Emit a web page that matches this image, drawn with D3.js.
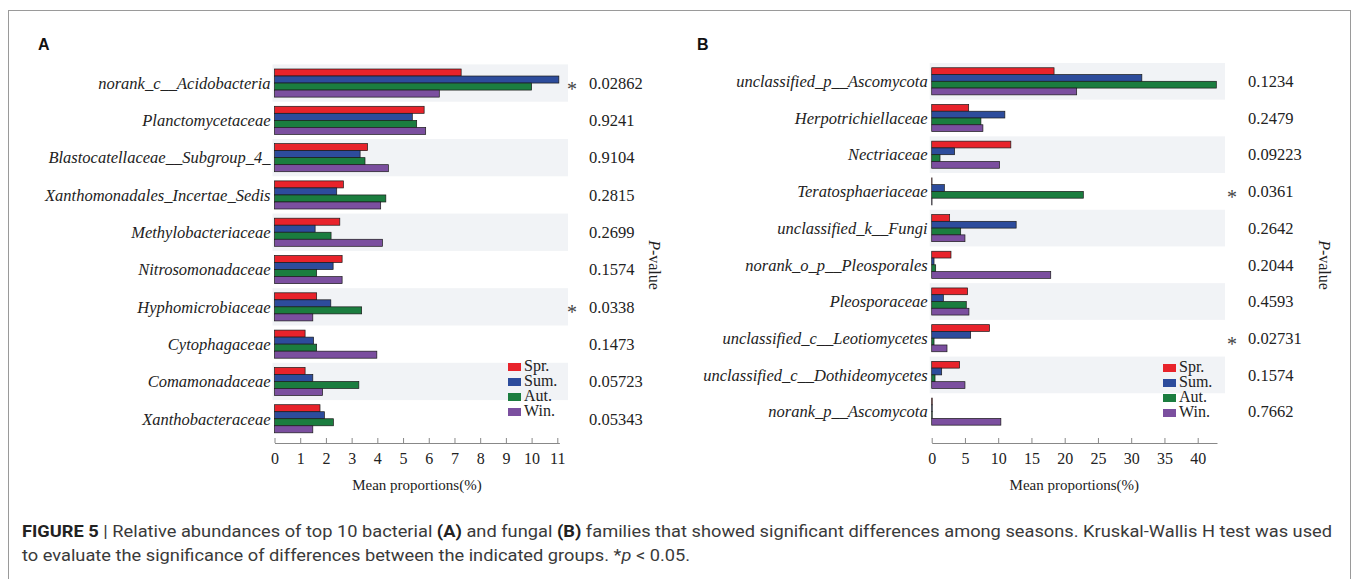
<!DOCTYPE html>
<html>
<head>
<meta charset="utf-8">
<script src="https://cdn.jsdelivr.net/npm/d3@7/dist/d3.min.js"></script>
<style>
  body { margin: 0; background: #fff; }
  svg text { font-family: "Liberation Serif", "DejaVu Serif", serif; fill: #222; }
</style>
</head>
<body>
<svg id="chart" width="1356" height="579"></svg>
<script>
var seasons = ['Spr.', 'Sum.', 'Aut.', 'Win.'];
var seasonColors = ['#e8232b', '#2d4c9c', '#1b7d3f', '#7b4f9f'];

// panel A: bacterial families
var bacFamilies = ['norank_c__Acidobacteria', 'Planctomycetaceae', 'Blastocatellaceae__Subgroup_4_',
  'Xanthomonadales_Incertae_Sedis', 'Methylobacteriaceae', 'Nitrosomonadaceae', 'Hyphomicrobiaceae',
  'Cytophagaceae', 'Comamonadaceae', 'Xanthobacteraceae'];
var bacSpr = [7.26, 5.82, 3.62, 2.68, 2.54, 2.63, 1.64, 1.19, 1.19, 1.77];
var bacSum = [11.06, 5.36, 3.33, 2.42, 1.58, 2.28, 2.19, 1.52, 1.49, 1.94];
var bacAut = [10.0, 5.53, 3.52, 4.33, 2.2, 1.64, 3.39, 1.64, 3.28, 2.29];
var bacWin = [6.41, 5.88, 4.43, 4.13, 4.2, 2.63, 1.49, 3.98, 1.87, 1.49];
var bacP = ['0.02862', '0.9241', '0.9104', '0.2815', '0.2699', '0.1574', '0.0338', '0.1473', '0.05723', '0.05343'];
var bacSig = [true, false, false, false, false, false, true, false, false, false];
var bacTicks = [0, 1, 2, 3, 4, 5, 6, 7, 8, 9, 10, 11];

// panel B: fungal families
var funFamilies = ['unclassified_p__Ascomycota', 'Herpotrichiellaceae', 'Nectriaceae', 'Teratosphaeriaceae',
  'unclassified_k__Fungi', 'norank_o_p__Pleosporales', 'Pleosporaceae', 'unclassified_c__Leotiomycetes',
  'unclassified_c__Dothideomycetes', 'norank_p__Ascomycota'];
var funSpr = [18.4, 5.56, 11.9, 0.05, 2.7, 2.9, 5.4, 8.7, 4.2, 0.08];
var funSum = [31.6, 11.0, 3.45, 1.9, 12.7, 0.35, 1.75, 5.86, 1.5, 0.08];
var funAut = [42.8, 7.4, 1.25, 22.8, 4.36, 0.6, 5.2, 0.35, 0.5, 0.08];
var funWin = [21.8, 7.7, 10.2, 0.05, 5.0, 17.9, 5.6, 2.3, 5.0, 10.4];
var funP = ['0.1234', '0.2479', '0.09223', '0.0361', '0.2642', '0.2044', '0.4593', '0.02731', '0.1574', '0.7662'];
var funSig = [false, false, false, true, false, false, false, true, false, false];
var funTicks = [0, 5, 10, 15, 20, 25, 30, 35, 40];

var svg = d3.select('#chart');

// outer frame
svg.append('rect')
  .attr('x', 8.5).attr('y', 10.5)
  .attr('width', 1342).attr('height', 620)
  .attr('fill', 'none').attr('stroke', '#9a9a9a').attr('stroke-width', 1);

function drawPanel(p)
{
  var g = svg.append('g');
  var rows = p.names.map(function(n, i)
  {
    return {name: n, vals: [p.spr[i], p.sum[i], p.aut[i], p.win[i]], pv: p.pv[i], sig: p.sig[i]};
  });

  var x = d3.scaleLinear().domain([0, p.xMax]).range([p.x0, p.x1]);
  var y = d3.scaleBand().domain(p.names).range([p.yTop, p.yBottom]).padding(0);
  var inner = d3.scaleBand().domain(seasons).range([p.barPad, y.bandwidth() - p.barPad]).padding(0);

  // alternating shaded bands
  g.selectAll('rect.band')
    .data(rows.filter(function(d, i) { return i % 2 == 0; }))
    .enter().append('rect')
    .attr('class', 'band')
    .attr('x', p.x0 - 2)
    .attr('y', function(d) { return y(d.name); })
    .attr('width', p.bandRight - p.x0 + 2)
    .attr('height', y.bandwidth())
    .attr('fill', '#f1f3f6');

  var groups = g.selectAll('g.row')
    .data(rows)
    .enter().append('g')
    .attr('class', 'row')
    .attr('transform', function(d) { return 'translate(0,' + y(d.name) + ')'; });

  groups.selectAll('rect')
    .data(function(d) { return d.vals; })
    .enter().append('rect')
    .attr('x', x(0))
    .attr('y', function(d, i) { return inner(seasons[i]); })
    .attr('width', function(d) { return x(d) - x(0); })
    .attr('height', inner.bandwidth())
    .attr('fill', function(d, i) { return seasonColors[i]; })
    .attr('stroke', '#1a1a1a')
    .attr('stroke-width', 0.7);

  // family labels
  groups.append('text')
    .attr('x', p.x0 - 4)
    .attr('y', y.bandwidth() / 2 + p.labelDy)
    .attr('text-anchor', 'end')
    .attr('dominant-baseline', 'middle')
    .style('font-style', 'italic')
    .style('font-size', '16.5px')
    .text(function(d) { return d.name; });

  // p-values
  groups.append('text')
    .attr('x', p.pX)
    .attr('y', y.bandwidth() / 2 + p.labelDy)
    .attr('dominant-baseline', 'middle')
    .style('font-size', '16.5px')
    .text(function(d) { return d.pv; });

  groups.filter(function(d) { return d.sig; })
    .append('text')
    .attr('x', p.starX)
    .attr('y', y.bandwidth() / 2 + p.labelDy + 6)
    .attr('text-anchor', 'middle')
    .attr('dominant-baseline', 'middle')
    .style('font-size', '20px')
    .style('fill', '#444')
    .text('*');

  // x axis
  var axis = d3.axisBottom(x).tickValues(p.ticks).tickSizeInner(-5).tickSizeOuter(0).tickPadding(10);
  var ax = g.append('g')
    .attr('transform', 'translate(0,' + p.axisY + ')')
    .call(axis);
  ax.select('.domain').attr('stroke', '#888');
  ax.selectAll('.tick line').attr('stroke', '#888');
  ax.selectAll('.tick text')
    .style('font-size', '16px')
    .style('font-family', '"Liberation Serif", serif')
    .attr('fill', '#222');

  g.append('text')
    .attr('x', (p.x0 + p.x1) / 2)
    .attr('y', 487)
    .attr('text-anchor', 'middle')
    .attr('dominant-baseline', 'middle')
    .style('font-size', '15px')
    .text('Mean proportions(%)');

  // rotated P-value title
  var pt = g.append('text')
    .attr('transform', 'translate(' + p.ptX + ',265) rotate(90)')
    .attr('text-anchor', 'middle')
    .attr('dominant-baseline', 'middle')
    .style('font-size', '16px');
  pt.append('tspan').style('font-style', 'italic').text('P');
  pt.append('tspan').text('-value');

  // legend
  var leg = g.append('g')
    .selectAll('g')
    .data(seasons)
    .enter().append('g')
    .attr('transform', function(d, i) { return 'translate(' + p.legX + ',' + (p.legY + i * 15) + ')'; });
  leg.append('rect')
    .attr('x', 0).attr('y', -4)
    .attr('width', 13).attr('height', 8)
    .attr('fill', function(d, i) { return seasonColors[i]; });
  leg.append('text')
    .attr('x', 16)
    .attr('dominant-baseline', 'middle')
    .style('font-size', '16px')
    .text(function(d) { return d; });

  svg.append('text')
    .attr('x', p.letterX)
    .attr('y', 46)
    .attr('dominant-baseline', 'middle')
    .style('font-family', '"Liberation Sans", Arial, sans-serif')
    .style('font-weight', 'bold')
    .style('font-size', '16px')
    .style('fill', '#111')
    .text(p.letter);
}

drawPanel({
  letter: 'A', letterX: 38,
  names: bacFamilies, spr: bacSpr, sum: bacSum, aut: bacAut, win: bacWin, pv: bacP, sig: bacSig,
  ticks: bacTicks, xMax: 11.08, x0: 274.5, x1: 274.5 + 25.71 * 11.08,
  yTop: 64.4, yBottom: 64.4 + 37.3 * 10, barPad: 4.6, labelDy: 2, bandRight: 568,
  pX: 589, starX: 572, ptX: 653, axisY: 443, legX: 508, legY: 367
});

drawPanel({
  letter: 'B', letterX: 697,
  names: funFamilies, spr: funSpr, sum: funSum, aut: funAut, win: funWin, pv: funP, sig: funSig,
  ticks: funTicks, xMax: 42.9, x0: 931.7, x1: 931.7 + 6.65 * 42.9,
  yTop: 62.95, yBottom: 62.95 + 36.7 * 10, barPad: 4.8, labelDy: 2, bandRight: 1225,
  pX: 1248, starX: 1232, ptX: 1323, axisY: 443, legX: 1163, legY: 368
});

// caption: both lines squeezed by the same factor so line 1 spans the frame
var capFont = 'Roboto, "Liberation Sans", sans-serif';
var cap1 = svg.append('text')
  .attr('dominant-baseline', 'middle')
  .style('font-family', capFont)
  .style('font-size', '16.5px');
cap1.append('tspan').style('font-weight', 'bold').style('fill', '#222').text('FIGURE 5');
cap1.append('tspan').style('fill', '#3a3a3a').text(' | Relative abundances of top 10 bacterial ');
cap1.append('tspan').style('font-weight', 'bold').style('fill', '#222').text('(A)');
cap1.append('tspan').style('fill', '#3a3a3a').text(' and fungal ');
cap1.append('tspan').style('font-weight', 'bold').style('fill', '#222').text('(B)');
cap1.append('tspan').style('fill', '#3a3a3a').text(' families that showed significant differences among seasons. Kruskal-Wallis H test was used');

var sx = 1311 / cap1.node().getComputedTextLength();
cap1.attr('transform', 'translate(22,532) scale(' + sx + ',1)');

var cap2 = svg.append('text')
  .attr('transform', 'translate(22,556) scale(' + sx + ',1)')
  .attr('dominant-baseline', 'middle')
  .style('font-family', capFont)
  .style('font-size', '16.5px')
  .style('fill', '#3a3a3a');
cap2.append('tspan').text('to evaluate the significance of differences between the indicated groups. *');
cap2.append('tspan').style('font-style', 'italic').text('p');
cap2.append('tspan').text(' < 0.05.');
</script>
</body>
</html>
